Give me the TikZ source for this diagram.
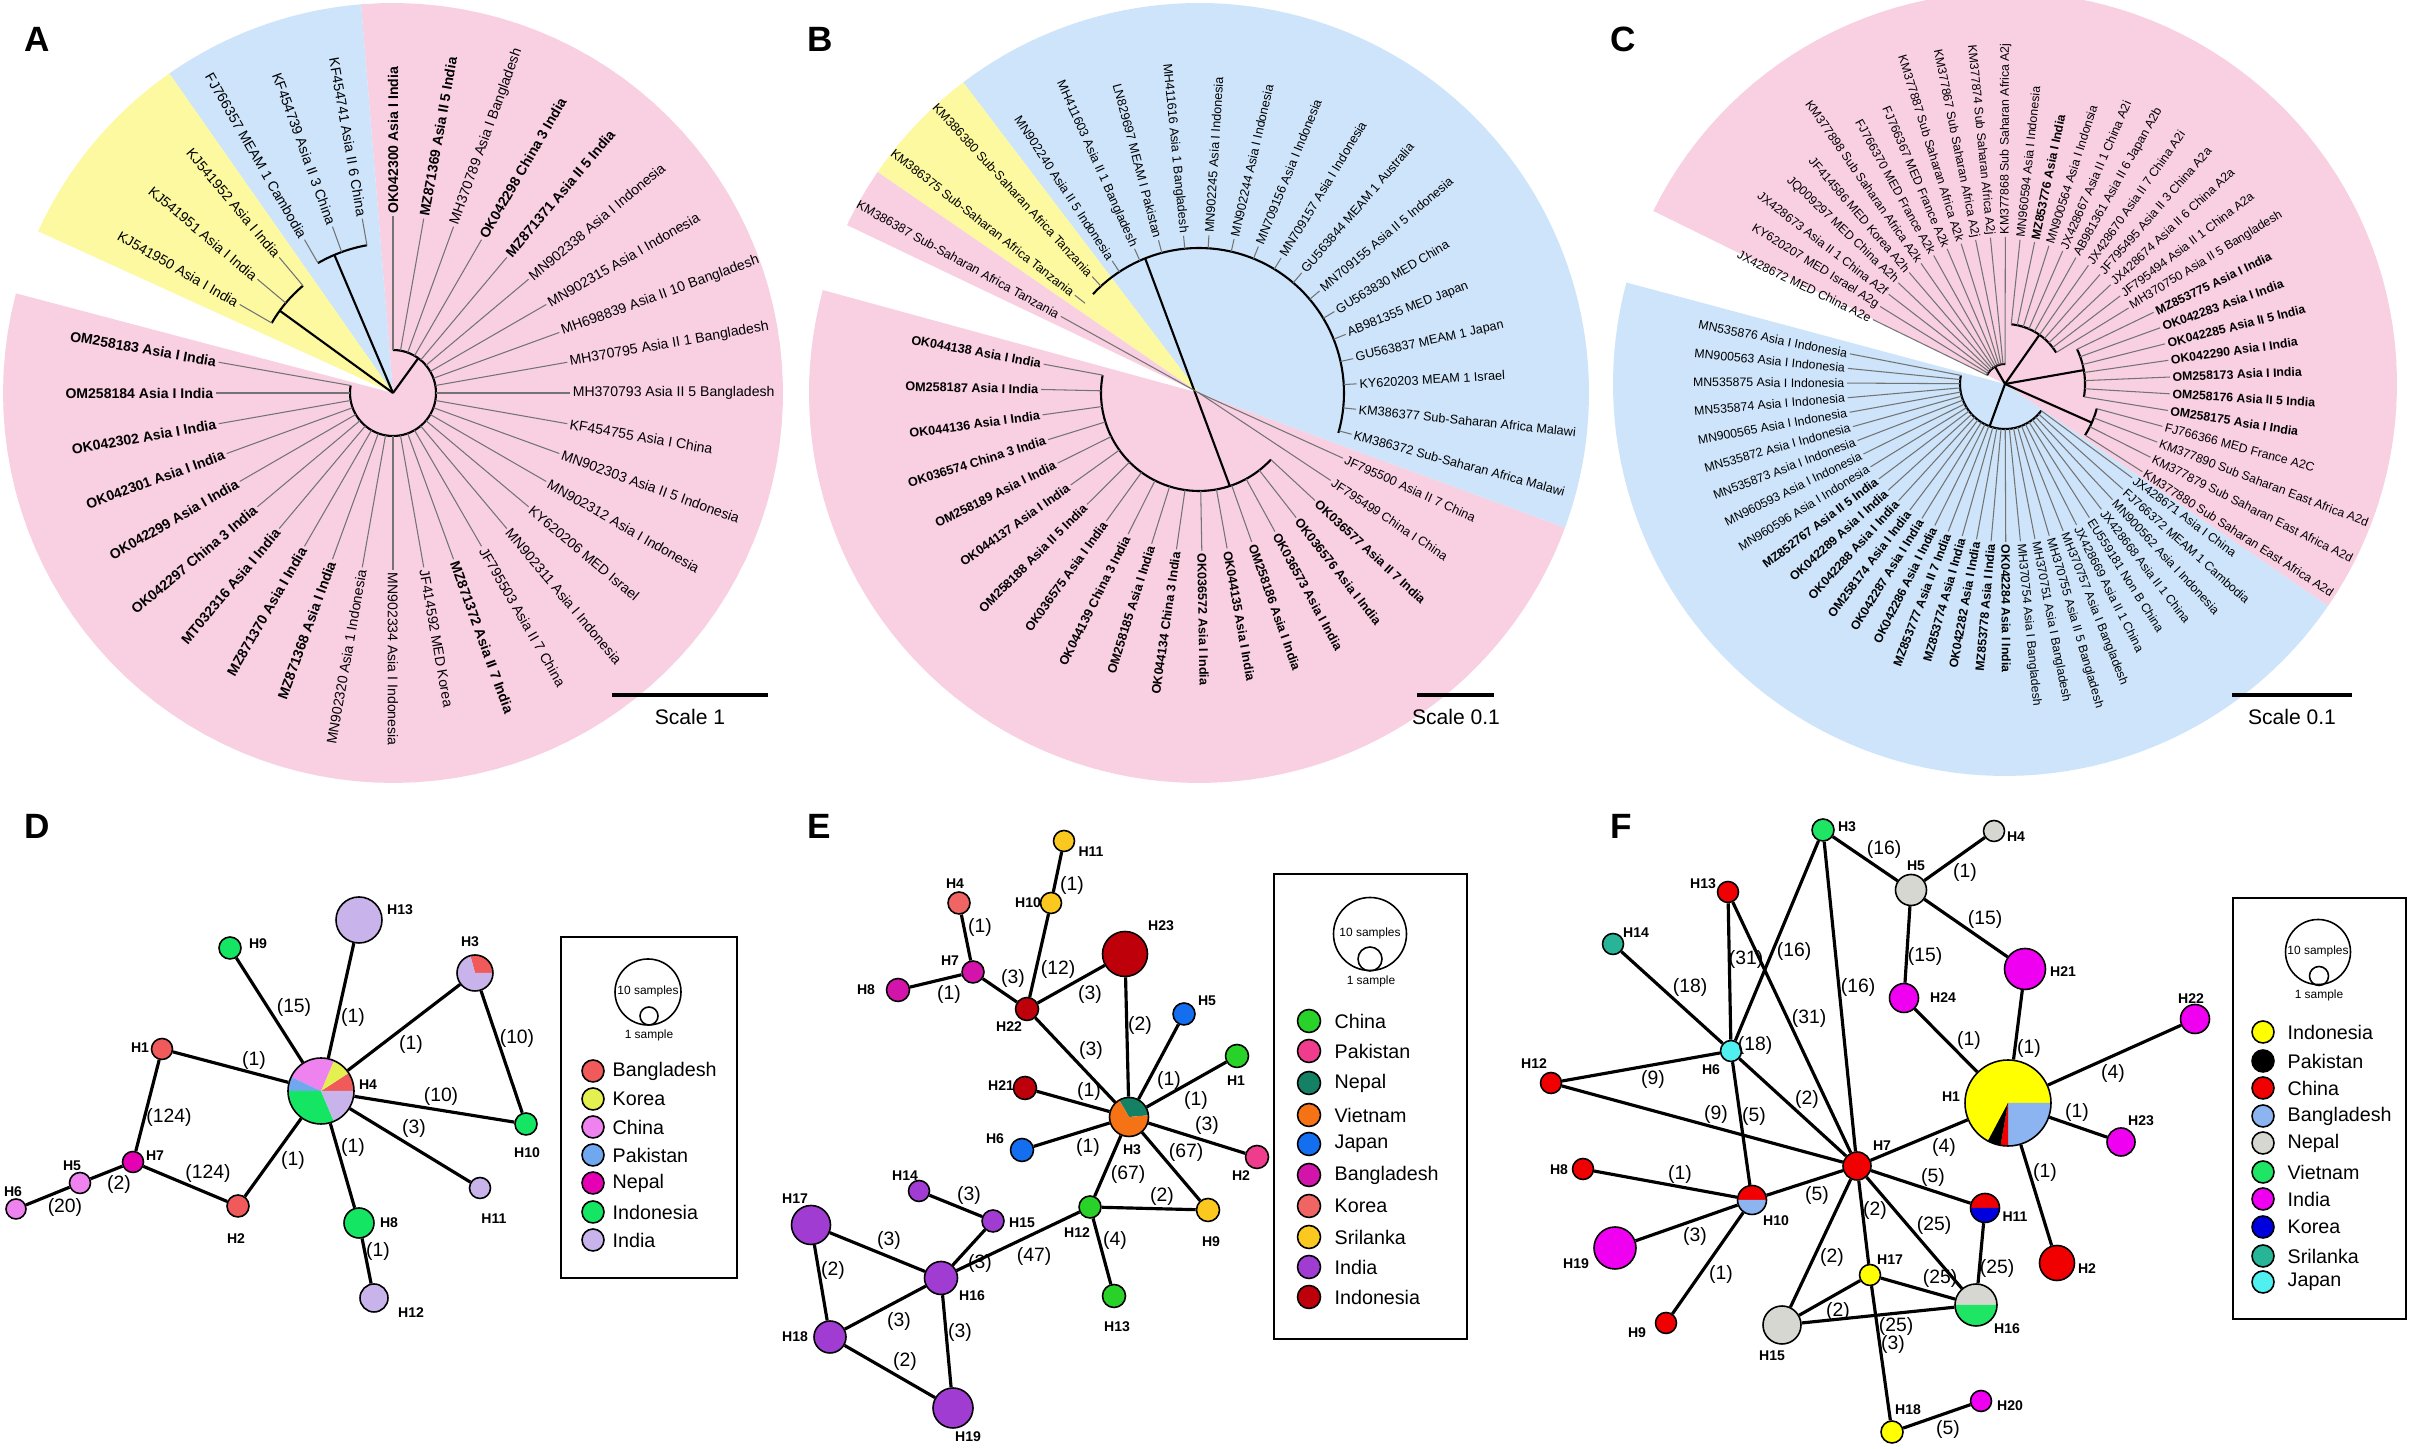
\documentclass[tikz,border=0pt]{standalone}
\usepackage{fontspec}
\setmainfont{Liberation Sans}
\usetikzlibrary{calc}

% tree backgrounds
\definecolor{pinkbg}{RGB}{248,208,226}
\definecolor{bluebg}{RGB}{205,228,250}
\definecolor{yellowbg}{RGB}{252,249,160}
% network D
\definecolor{dBgd}{RGB}{240,90,90}
\definecolor{dKor}{RGB}{228,240,80}
\definecolor{dChn}{RGB}{238,130,238}
\definecolor{dPak}{RGB}{112,168,240}
\definecolor{dNep}{RGB}{230,0,180}
\definecolor{dIdn}{RGB}{20,230,100}
\definecolor{dInd}{RGB}{200,180,235}
% network E
\definecolor{eChn}{RGB}{40,210,40}
\definecolor{ePak}{RGB}{240,60,140}
\definecolor{eNep}{RGB}{20,128,100}
\definecolor{eVie}{RGB}{245,115,20}
\definecolor{eJpn}{RGB}{20,110,240}
\definecolor{eBgd}{RGB}{210,20,170}
\definecolor{eKor}{RGB}{240,100,100}
\definecolor{eSri}{RGB}{250,200,30}
\definecolor{eInd}{RGB}{160,60,210}
\definecolor{eIdn}{RGB}{190,0,10}
% network F
\definecolor{fIdn}{RGB}{255,255,0}
\definecolor{fPak}{RGB}{0,0,0}
\definecolor{fChn}{RGB}{240,0,0}
\definecolor{fBgd}{RGB}{140,180,240}
\definecolor{fNep}{RGB}{215,215,210}
\definecolor{fVie}{RGB}{30,230,100}
\definecolor{fInd}{RGB}{240,0,240}
\definecolor{fKor}{RGB}{0,0,220}
\definecolor{fSri}{RGB}{40,180,150}
\definecolor{fJpn}{RGB}{80,240,240}

% leaves of a circular tree: prefix, cx, cy, r0, r1, start angle, step, font size, list
\newcommand{\leafrun}[9]{%
  \foreach \txt/\wt [count=\k from 0] in {#9}{%
    \pgfmathsetmacro\ang{#6+(#7)*\k}%
    \pgfmathsetmacro\cang{cos(\ang)}%
    \draw[leafline] ({#2+#4*cos(\ang)},{#3-#4*sin(\ang)}) -- ({#2+#5*cos(\ang)},{#3-#5*sin(\ang)});%
    \ifdim\cang pt>-0.001pt
      \node[leaflab,font=\fontsize{#8}{#8}\selectfont,wt\wt,anchor=west,rotate=\ang] (#1\k) at ({#2+#5*cos(\ang)},{#3-#5*sin(\ang)}) {\txt};%
    \else
      \node[leaflab,font=\fontsize{#8}{#8}\selectfont,wt\wt,anchor=east,rotate=\ang-180] (#1\k) at ({#2+#5*cos(\ang)},{#3-#5*sin(\ang)}) {\txt};%
    \fi
  }}
% sector of a circle: cx, cy, r, from, to, colour
\newcommand{\pieslice}[6]{\fill[#6] (#1,#2) -- plot[domain=#4:#5,samples=40] ({#1+#3*cos(\x)},{#2-#3*sin(\x)}) -- cycle;}
% arc of a circle: cx, cy, r, from, to
\newcommand{\treearc}[5]{\draw[clade] plot[domain=#4:#5,samples=60] ({#1+#3*cos(\x)},{#2-#3*sin(\x)});}

\begin{document}
\begin{tikzpicture}[x=0.1mm,y=-0.1mm,
    leafline/.style={line width=0.3pt,black!55},
    clade/.style={line width=0.6pt,black},
    leaflab/.style={inner sep=0.6pt},
    wtb/.style={execute at begin node=\bfseries},
    wtm/.style={},
    panel/.style={font=\fontsize{10}{10}\selectfont\bfseries},
    scalebar/.style={line width=0.9pt},
    scalelab/.style={font=\fontsize{6}{6}\selectfont},
    hap/.style={circle,draw,line width=0.45pt,inner sep=0pt},
    mutlink/.style={line width=0.9pt},
    mutlab/.style={font=\fontsize{5.5}{5.5}\selectfont,inner sep=0pt},
    haplab/.style={font=\fontsize{4}{4}\selectfont\bfseries,inner sep=0pt},
    legbox/.style={line width=0.6pt},
    legtext/.style={font=\fontsize{5.6}{5.6}\selectfont,anchor=west,inner sep=0pt},
    sizelab/.style={font=\fontsize{3.4}{3.4}\selectfont,inner sep=0pt}
]
\useasboundingbox (0,0) rectangle (2410,1449);
\fill[white] (0,0) rectangle (2410,1449);

% ---------------- A: tree ----------------
\fill[pinkbg] (393,393) -- plot[domain=165.2:454.7,samples=100] ({393+390*cos(\x)},{393-390*sin(\x)}) -- cycle;
\fill[bluebg] (393,393) -- plot[domain=94.7:125,samples=30] ({393+390*cos(\x)},{393-390*sin(\x)}) -- cycle;
\fill[yellowbg] (393,393) -- plot[domain=125:155.5,samples=30] ({393+390*cos(\x)},{393-390*sin(\x)}) -- cycle;
\draw[clade] (393,393) -- ({393+43*cos(54)},{393-43*sin(54)});
\treearc{393}{393}{43}{-190}{90}
\draw[clade] (393,393) -- ({393+140*cos(144)},{393-140*sin(144)});
\treearc{393}{393}{140}{130}{150}
\draw[clade] (393,393) -- ({393+150*cos(113)},{393-150*sin(113)});
\treearc{393}{393}{150}{100}{120}
\leafrun{aP}{393}{393}{43}{177}{90}{-10}{4}{OK042300 Asia I India/b,
  MZ871369 Asia II 5 India/b,
  MH370789 Asia I Bangladesh/m,
  OK042298 China 3 India/b,
  MZ871371 Asia II 5 India/b,
  MN902338 Asia I Indonesia/m,
  MN902315 Asia I Indonesia/m,
  MH698839 Asia II 10 Bangladesh/m,
  MH370795 Asia II 1 Bangladesh/m,
  MH370793 Asia II 5 Bangladesh/m,
  KF454755 Asia I China/m,
  MN902303 Asia II 5 Indonesia/m,
  MN902312 Asia I Indonesia/m,
  KY620206 MED Israel/m,
  MN902311 Asia I Indonesia/m,
  JF795503 Asia II 7 China/m,
  MZ871372 Asia II 7 India/b,
  JF414592 MED Korea/m,
  MN902334 Asia I Indonesia/m,
  MN902320 Asia 1 Indonesia/m,
  MZ871368 Asia I India/b,
  MZ871370 Asia I India/b,
  MT032316 Asia I India/b,
  OK042297 China 3 India/b,
  OK042299 Asia I India/b,
  OK042301 Asia I India/b,
  OK042302 Asia I India/b,
  OM258184 Asia I India/b,
  OM258183 Asia I India/b}
\leafrun{aY}{393}{393}{140}{177}{150}{-10}{4}{KJ541950 Asia I India/m,
  KJ541951 Asia I India/m,
  KJ541952 Asia I India/m}
\leafrun{aB}{393}{393}{150}{177}{120}{-10}{4}{FJ766357 MEAM 1 Cambodia/m,
  KF454739 Asia II 3 China/m,
  KF454741 Asia II 6 China/m}
\draw[scalebar] (612,695) -- (768,695);
\node[scalelab] (sA) at (690,717) {Scale 1};
\node[panel] (lA) at (37,39) {A};

% ---------------- B: tree ----------------
\fill[pinkbg] (1199,393) -- plot[domain=164.7:339.8,samples=80] ({1199+390*cos(\x)},{393-390*sin(\x)}) -- cycle;
\fill[bluebg] (1199,393) -- plot[domain=339.8:487.2,samples=80] ({1199+390*cos(\x)},{393-390*sin(\x)}) -- cycle;
\fill[yellowbg] (1199,393) -- plot[domain=127.2:145.5,samples=20] ({1199+390*cos(\x)},{393-390*sin(\x)}) -- cycle;
\fill[pinkbg] (1199,393) -- plot[domain=145.5:154.5,samples=20] ({1199+390*cos(\x)},{393-390*sin(\x)}) -- cycle;
\treearc{1199}{393}{145}{-16}{137}
\treearc{1199}{393}{98}{169.6}{317.2}
\draw[clade] ({1199+98*cos(-71.7)},{393-98*sin(-71.7)}) -- ({1199+145*cos(111.8)},{393-145*sin(111.8)});
\leafrun{bT}{1199}{393}{0}{158}{151}{-9.23}{3.6}{KM386387 Sub-Saharan Africa Tanzania/m}
\leafrun{bB}{1199}{393}{145}{158}{141.77}{-9.23}{3.6}{KM386375 Sub-Saharan Africa Tanzania/m,
  KM386380 Sub-Saharan Africa Tanzania/m,
  MN902240 Asia II 5 Indonesia/m,
  MH411603 Asia II 1 Bangladesh/m,
  LN829697 MEAM I Pakistan/m,
  MH411616 Asia 1 Bangladesh/m,
  MN902245 Asia I Indonesia/m,
  MN902244 Asia I Indonesia/m,
  MN709156 Asia I Indonesia/m,
  MN709157 Asia I Indonesia/m,
  GU563844 MEAM 1 Australia/m,
  MN709155 Asia II 5 Indonesia/m,
  GU563830 MED China/m,
  AB981355 MED Japan/m,
  GU563837 MEAM 1 Japan/m,
  KY620203 MEAM 1 Israel/m,
  KM386377 Sub-Saharan Africa Malawi/m,
  KM386372 Sub-Saharan Africa Malawi/m}
\leafrun{bJ}{1199}{393}{0}{158}{-24.37}{-9.23}{3.6}{JF795500 Asia II 7 China/m,
  JF795499 China I China/m}
\leafrun{bP}{1199}{393}{98}{158}{-42.83}{-9.23}{3.6}{OK036577 Asia II 7 India/b,
  OK036576 Asia I India/b,
  OK036573 Asia I India/b,
  OM258186 Asia I India/b,
  OK044135 Asia I India/b,
  OK036572 Asia I India/b,
  OK044134 China 3 India/b,
  OM258185 Asia I India/b,
  OK044139 China 3 India/b,
  OK036575 Asia I India/b,
  OM258188 Asia II 5 India/b,
  OK044137 Asia I India/b,
  OM258189 Asia I India/b,
  OK036574 China 3 India/b,
  OK044136 Asia I India/b,
  OM258187 Asia I India/b,
  OK044138 Asia I India/b}
\draw[scalebar] (1417,695) -- (1494,695);
\node[scalelab] (sB) at (1456,717) {Scale 0.1};
\node[panel] (lB) at (820,39) {B};

% ---------------- C: tree ----------------
\fill[pinkbg] (2005,384) -- plot[domain=-34.5:153.8,samples=80] ({2005+392*cos(\x)},{384-392*sin(\x)}) -- cycle;
\fill[bluebg] (2005,384) -- plot[domain=165:325.5,samples=80] ({2005+392*cos(\x)},{384-392*sin(\x)}) -- cycle;
\treearc{2005}{384}{20}{89}{154}
\draw[clade] (2005,384) -- ({2005+20*cos(120)},{384-20*sin(120)});
\treearc{2005}{384}{60}{31.5}{84}
\treearc{2005}{384}{80}{-9.3}{25.8}
\draw[clade] (2005,384) -- ({2005+80*cos(10)},{384-80*sin(10)});
\treearc{2005}{384}{95}{-32.6}{-15}
\draw[clade] (2005,384) -- ({2005+95*cos(-24)},{384-95*sin(-24)});
\draw[clade] (2005,384) -- ({2005+60*cos(55)},{384-60*sin(55)});
\treearc{2005}{384}{45}{169}{323.6}
\draw[clade] (2005,384) -- ({2005+45*cos(250)},{384-45*sin(250)});
\leafrun{cP}{2005}{384}{20}{147}{154}{-5.83}{3.5}{JX428672 MED China A2e/m,
  KY620207 MED Israel A2g/m,
  JX428673 Asia II 1 China A2f/m,
  JQ009297 MED China A2h/m,
  JF414586 MED Korea A2h/m,
  KM377898 Sub Saharan Africa A2k/m,
  FJ766370 MED France A2k/m,
  FJ766367 MED France A2k/m,
  KM377887 Sub Saharan Africa A2k/m,
  KM377867 Sub Saharan Africa A2j/m,
  KM377874 Sub Saharan Africa A2j/m,
  KM377868 Sub Saharan Africa A2j/m}
\leafrun{cQ}{2005}{384}{60}{145}{84.04}{-5.83}{3.5}{MN960594 Asia I Indonesia/m,
  MZ853776 Asia I India/b,
  MN900564 Asia I Indonsia/m,
  JX428667 Asia II 1 China A2i/m,
  AB981361 Asia II 6 Japan A2b/m,
  JX428670 Asia II 7 China A2i/m,
  JF795495 Asia II 3 China A2a/m,
  JX428674 Asia II 6 China A2a/m,
  JF795494 Asia II 1 China A2a/m,
  MH370750 Asia II 5 Bangladesh/m}
\leafrun{cR}{2005}{384}{80}{165}{25.74}{-5.83}{3.5}{MZ853775 Asia I India/b,
  OK042283 Asia I India/b,
  OK042285 Asia II 5 India/b,
  OK042290 Asia I India/b,
  OM258173 Asia I India/b,
  OM258176 Asia II 5 India/b,
  OM258175 Asia I India/b}
\leafrun{cS}{2005}{384}{95}{163}{-15.07}{-5.83}{3.5}{FJ766366 MED France A2C/m,
  KM377890 Sub Saharan East Africa A2d/m,
  KM377879 Sub Saharan East Africa A2d/m,
  KM377880 Sub Saharan East Africa A2d/m}
\leafrun{cB}{2005}{384}{45}{158}{169}{5.33}{3.5}{MN535876 Asia I Indonesia/m,
  MN900563 Asia I Indonesia/m,
  MN535875 Asia I Indonesia/m,
  MN535874 Asia I Indonesia/m,
  MN900565 Asia I Indonesia/m,
  MN535872 Asia I Indonesia/m,
  MN535873 Asia I Indonesia/m,
  MN960593 Asia I Indonesia/m,
  MN960596 Asia I Indonesia/m,
  MZ852767 Asia II 5 India/b,
  OK042289 Asia I India/b,
  OK042288 Asia I India/b,
  OM258174 Asia I India/b,
  OK042287 Asia I India/b,
  OK042286 Asia I India/b,
  MZ853777 Asia II 7 India/b,
  MZ853774 Asia I India/b,
  OK042282 Asia I India/b,
  MZ853778 Asia I India/b,
  OK042284 Asia I India/b,
  MH370754 Asia I Bangladesh/m,
  MH370751 Asia I Bangladesh/m,
  MH370755 Asia II 5 Bangladesh/m,
  MH370757 Asia I Bangladesh/m,
  JX428669 Asia II 1 China/m,
  EU559181 Non B China/m,
  JX428668 Asia II 1 China/m,
  MN900562 Asia I Indonesia/m,
  FJ766372 MEAM 1 Cambodia/m,
  JX428671 Asia I China/m}
\draw[scalebar] (2232,695) -- (2352,695);
\node[scalelab] (sC) at (2292,717) {Scale 0.1};
\node[panel] (lC) at (1623,39) {C};

% ---------------- D: network ----------------
\node[panel] (lD) at (37,826) {D};
\pieslice{321}{1091}{33}{0}{33}{dBgd}
\pieslice{321}{1091}{33}{33}{67}{dKor}
\pieslice{321}{1091}{33}{67}{155}{dChn}
\pieslice{321}{1091}{33}{155}{180}{dPak}
\pieslice{321}{1091}{33}{180}{293}{dIdn}
\pieslice{321}{1091}{33}{293}{360}{dInd}
\node[hap,minimum size=6.6mm] (dH4) at (321,1091) {};
\pieslice{475}{973}{18}{0}{105}{dBgd}
\pieslice{475}{973}{18}{105}{360}{dInd}
\node[hap,minimum size=3.6mm] (dH3) at (475,973) {};
\node[hap,fill=dInd,minimum size=4.6mm] (dH13) at (359,920) {};
\node[hap,fill=dIdn,minimum size=2.2mm] (dH9) at (230,948) {};
\node[hap,fill=dBgd,minimum size=2.1mm] (dH1) at (162,1049) {};
\node[hap,fill=dIdn,minimum size=2.2mm] (dH10) at (526,1124) {};
\node[hap,fill=dNep,minimum size=2.1mm] (dH7) at (133,1162) {};
\node[hap,fill=dChn,minimum size=2.1mm] (dH5) at (80,1183) {};
\node[hap,fill=dChn,minimum size=2mm] (dH6) at (16,1209) {};
\node[hap,fill=dBgd,minimum size=2.2mm] (dH2) at (238,1206) {};
\node[hap,fill=dInd,minimum size=2.1mm] (dH11) at (480,1188) {};
\node[hap,fill=dIdn,minimum size=3mm] (dH8) at (359,1223) {};
\node[hap,fill=dInd,minimum size=2.8mm] (dH12) at (374,1298) {};
\draw[mutlink] (dH4) -- (dH13);
\draw[mutlink] (dH4) -- (dH9);
\draw[mutlink] (dH4) -- (dH3);
\draw[mutlink] (dH4) -- (dH1);
\draw[mutlink] (dH4) -- (dH10);
\draw[mutlink] (dH4) -- (dH11);
\draw[mutlink] (dH4) -- (dH8);
\draw[mutlink] (dH4) -- (dH2);
\draw[mutlink] (dH3) -- (dH10);
\draw[mutlink] (dH1) -- (dH7);
\draw[mutlink] (dH7) -- (dH2);
\draw[mutlink] (dH7) -- (dH5);
\draw[mutlink] (dH5) -- (dH6);
\draw[mutlink] (dH8) -- (dH12);
% mutation counts
\node[mutlab] (dm1) at (294,1008) {(15)};
\node[mutlab] (dm2) at (353,1018) {(1)};
\node[mutlab] (dm3) at (411,1045) {(1)};
\node[mutlab] (dm4) at (517,1039) {(10)};
\node[mutlab] (dm5) at (254,1061) {(1)};
\node[mutlab] (dm6) at (441,1097) {(10)};
\node[mutlab] (dm7) at (169,1118) {(124)};
\node[mutlab] (dm8) at (414,1129) {(3)};
\node[mutlab] (dm9) at (353,1148) {(1)};
\node[mutlab] (dm10) at (293,1161) {(1)};
\node[mutlab] (dm11) at (208,1174) {(124)};
\node[mutlab] (dm12) at (119,1185) {(2)};
\node[mutlab] (dm13) at (65,1208) {(20)};
\node[mutlab] (dm14) at (378,1252) {(1)};
% haplotype names
\node[haplab] (dl13) at (400,910) {H13};
\node[haplab] (dl9) at (258,944) {H9};
\node[haplab] (dl3) at (470,942) {H3};
\node[haplab] (dl1) at (140,1048) {H1};
\node[haplab] (dl4) at (368,1085) {H4};
\node[haplab] (dl10) at (527,1153) {H10};
\node[haplab] (dl7) at (155,1156) {H7};
\node[haplab] (dl5) at (72,1166) {H5};
\node[haplab] (dl6) at (13,1192) {H6};
\node[haplab] (dl2) at (236,1239) {H2};
\node[haplab] (dl11) at (494,1219) {H11};
\node[haplab] (dl8) at (389,1223) {H8};
\node[haplab] (dl12) at (411,1313) {H12};
% legend
\draw[legbox] (561,937) rectangle (737,1278);
\node[hap,minimum size=6.6mm] (dS10) at (648,992) {};
\node[hap,minimum size=1.8mm] (dS1) at (649,1016) {};
\node[sizelab] (dS10t) at (648,991) {10 samples};
\node[sizelab] (dS1t) at (649,1035) {1 sample};
\node[hap,fill=dBgd,minimum size=2.2mm] (dk1) at (593,1071) {};
\node[legtext] (dt1) at (612,1071) {Bangladesh};
\node[hap,fill=dKor,minimum size=2.2mm] (dk2) at (593,1099) {};
\node[legtext] (dt2) at (612,1099) {Korea};
\node[hap,fill=dChn,minimum size=2.2mm] (dk3) at (593,1127) {};
\node[legtext] (dt3) at (612,1127) {China};
\node[hap,fill=dPak,minimum size=2.2mm] (dk4) at (593,1155) {};
\node[legtext] (dt4) at (612,1155) {Pakistan};
\node[hap,fill=dNep,minimum size=2.2mm] (dk5) at (593,1183) {};
\node[legtext] (dt5) at (612,1183) {Nepal};
\node[hap,fill=dIdn,minimum size=2.2mm] (dk6) at (593,1212) {};
\node[legtext] (dt6) at (612,1212) {Indonesia};
\node[hap,fill=dInd,minimum size=2.2mm] (dk7) at (593,1240) {};
\node[legtext] (dt7) at (612,1240) {India};

% ---------------- E: network ----------------
\node[panel] (lE) at (819,826) {E};
\pieslice{1129}{1117}{19.5}{5}{120}{eNep}
\pieslice{1129}{1117}{19.5}{120}{365}{eVie}
\node[hap,minimum size=3.9mm] (eH3) at (1129,1117) {};
\node[hap,fill=eSri,minimum size=2.1mm] (eH11) at (1064,841) {};
\node[hap,fill=eSri,minimum size=2.1mm] (eH10) at (1051,903) {};
\node[hap,fill=eKor,minimum size=2.2mm] (eH4) at (959,903) {};
\node[hap,fill=eBgd,minimum size=2.2mm] (eH7) at (973,972) {};
\node[hap,fill=eBgd,minimum size=2.3mm] (eH8) at (898,990) {};
\node[hap,fill=eIdn,minimum size=2.3mm] (eH22) at (1027,1009) {};
\node[hap,fill=eIdn,minimum size=4.5mm] (eH23) at (1125,954) {};
\node[hap,fill=eJpn,minimum size=2.2mm] (eH5) at (1184,1014) {};
\node[hap,fill=eChn,minimum size=2.3mm] (eH1) at (1237,1056) {};
\node[hap,fill=eIdn,minimum size=2.3mm] (eH21) at (1025,1088) {};
\node[hap,fill=eJpn,minimum size=2.3mm] (eH6) at (1022,1150) {};
\node[hap,fill=ePak,minimum size=2.3mm] (eH2) at (1257,1157) {};
\node[hap,fill=eChn,minimum size=2.2mm] (eH12) at (1090,1207) {};
\node[hap,fill=eSri,minimum size=2.3mm] (eH9) at (1208,1210) {};
\node[hap,fill=eChn,minimum size=2.3mm] (eH13) at (1114,1296) {};
\node[hap,fill=eInd,minimum size=2.1mm] (eH14) at (919,1191) {};
\node[hap,fill=eInd,minimum size=2.2mm] (eH15) at (993,1221) {};
\node[hap,fill=eInd,minimum size=3.9mm] (eH17) at (811,1225) {};
\node[hap,fill=eInd,minimum size=3.3mm] (eH16) at (941,1278) {};
\node[hap,fill=eInd,minimum size=3.2mm] (eH18) at (830,1337) {};
\node[hap,fill=eInd,minimum size=4mm] (eH19) at (953,1408) {};
\draw[mutlink] (eH11) -- (eH10);
\draw[mutlink] (eH10) -- (eH22);
\draw[mutlink] (eH4) -- (eH7);
\draw[mutlink] (eH8) -- (eH7);
\draw[mutlink] (eH7) -- (eH22);
\draw[mutlink] (eH22) -- (eH23);
\draw[mutlink] (eH22) -- (eH3);
\draw[mutlink] (eH23) -- (eH3);
\draw[mutlink] (eH5) -- (eH3);
\draw[mutlink] (eH1) -- (eH3);
\draw[mutlink] (eH21) -- (eH3);
\draw[mutlink] (eH6) -- (eH3);
\draw[mutlink] (eH2) -- (eH3);
\draw[mutlink] (eH3) -- (eH9);
\draw[mutlink] (eH3) -- (eH12);
\draw[mutlink] (eH12) -- (eH9);
\draw[mutlink] (eH12) -- (eH13);
\draw[mutlink] (eH12) -- (eH16);
\draw[mutlink] (eH14) -- (eH15);
\draw[mutlink] (eH15) -- (eH16);
\draw[mutlink] (eH17) -- (eH16);
\draw[mutlink] (eH17) -- (eH18);
\draw[mutlink] (eH18) -- (eH16);
\draw[mutlink] (eH16) -- (eH19);
\draw[mutlink] (eH18) -- (eH19);
% mutation counts
\node[mutlab] (em1) at (1072,886) {(1)};
\node[mutlab] (em2) at (980,928) {(1)};
\node[mutlab] (em3) at (1058,970) {(12)};
\node[mutlab] (em4) at (1013,979) {(3)};
\node[mutlab] (em5) at (949,995) {(1)};
\node[mutlab] (em6) at (1090,995) {(3)};
\node[mutlab] (em7) at (1140,1026) {(2)};
\node[mutlab] (em8) at (1091,1051) {(3)};
\node[mutlab] (em9) at (1169,1081) {(1)};
\node[mutlab] (em10) at (1196,1101) {(1)};
\node[mutlab] (em11) at (1089,1092) {(1)};
\node[mutlab] (em12) at (1207,1126) {(3)};
\node[mutlab] (em13) at (1088,1148) {(1)};
\node[mutlab] (em14) at (1186,1153) {(67)};
\node[mutlab] (em15) at (1128,1175) {(67)};
\node[mutlab] (em16) at (1162,1197) {(2)};
\node[mutlab] (em17) at (1115,1241) {(4)};
\node[mutlab] (em18) at (1034,1257) {(47)};
\node[mutlab] (em19) at (969,1196) {(3)};
\node[mutlab] (em20) at (980,1264) {(3)};
\node[mutlab] (em21) at (889,1241) {(3)};
\node[mutlab] (em22) at (833,1271) {(2)};
\node[mutlab] (em23) at (899,1322) {(3)};
\node[mutlab] (em24) at (960,1333) {(3)};
\node[mutlab] (em25) at (905,1362) {(2)};
% haplotype names
\node[haplab] (el11) at (1091,852) {H11};
\node[haplab] (el10) at (1028,903) {H10};
\node[haplab] (el4) at (955,884) {H4};
\node[haplab] (el7) at (950,961) {H7};
\node[haplab] (el8) at (866,990) {H8};
\node[haplab] (el22) at (1009,1027) {H22};
\node[haplab] (el23) at (1161,926) {H23};
\node[haplab] (el5) at (1207,1001) {H5};
\node[haplab] (el1) at (1236,1081) {H1};
\node[haplab] (el21) at (1001,1086) {H21};
\node[haplab] (el6) at (995,1139) {H6};
\node[haplab] (el3) at (1132,1150) {H3};
\node[haplab] (el2) at (1241,1176) {H2};
\node[haplab] (el9) at (1211,1242) {H9};
\node[haplab] (el12) at (1077,1233) {H12};
\node[haplab] (el13) at (1117,1327) {H13};
\node[haplab] (el14) at (905,1176) {H14};
\node[haplab] (el15) at (1022,1223) {H15};
\node[haplab] (el16) at (972,1296) {H16};
\node[haplab] (el17) at (795,1199) {H17};
\node[haplab] (el18) at (795,1337) {H18};
\node[haplab] (el19) at (968,1437) {H19};
% legend
\draw[legbox] (1274,874) rectangle (1467,1339);
\node[hap,minimum size=7.3mm] (eS10) at (1370,934) {};
\node[hap,minimum size=2.4mm] (eS1) at (1370,959) {};
\node[sizelab] (eS10t) at (1370,933) {10 samples};
\node[sizelab] (eS1t) at (1371,981) {1 sample};
\node[hap,fill=eChn,minimum size=2.3mm] (ek1) at (1309,1021) {};
\node[legtext] (et1) at (1334,1021) {China};
\node[hap,fill=ePak,minimum size=2.3mm] (ek2) at (1309,1051) {};
\node[legtext] (et2) at (1334,1051) {Pakistan};
\node[hap,fill=eNep,minimum size=2.3mm] (ek3) at (1309,1083) {};
\node[legtext] (et3) at (1334,1083) {Nepal};
\node[hap,fill=eVie,minimum size=2.3mm] (ek4) at (1309,1115) {};
\node[legtext] (et4) at (1334,1115) {Vietnam};
\node[hap,fill=eJpn,minimum size=2.3mm] (ek5) at (1309,1144) {};
\node[legtext] (et5) at (1334,1144) {Japan};
\node[hap,fill=eBgd,minimum size=2.3mm] (ek6) at (1309,1175) {};
\node[legtext] (et6) at (1334,1175) {Bangladesh};
\node[hap,fill=eKor,minimum size=2.3mm] (ek7) at (1309,1206) {};
\node[legtext] (et7) at (1334,1206) {Korea};
\node[hap,fill=eSri,minimum size=2.3mm] (ek8) at (1309,1237) {};
\node[legtext] (et8) at (1334,1237) {Srilanka};
\node[hap,fill=eInd,minimum size=2.3mm] (ek9) at (1309,1267) {};
\node[legtext] (et9) at (1334,1267) {India};
\node[hap,fill=eIdn,minimum size=2.3mm] (ek10) at (1309,1297) {};
\node[legtext] (et10) at (1334,1297) {Indonesia};

% ---------------- F: network ----------------
\node[panel] (lF) at (1621,826) {F};
\pieslice{2008}{1103}{43}{-120}{240}{fIdn}
\pieslice{2008}{1103}{43}{-90}{0}{fBgd}
\pieslice{2008}{1103}{43}{-100}{-90}{fChn}
\pieslice{2008}{1103}{43}{-118}{-100}{fPak}
\node[hap,minimum size=8.6mm] (fH1) at (2008,1103) {};
\pieslice{1752}{1200}{14.5}{0}{180}{fChn}
\pieslice{1752}{1200}{14.5}{180}{360}{fBgd}
\node[hap,minimum size=2.9mm] (fH10) at (1752,1200) {};
\pieslice{1985}{1208}{14.5}{0}{180}{fChn}
\pieslice{1985}{1208}{14.5}{180}{360}{fKor}
\node[hap,minimum size=2.9mm] (fH11) at (1985,1208) {};
\pieslice{1976}{1305}{21}{0}{180}{fNep}
\pieslice{1976}{1305}{21}{180}{360}{fVie}
\node[hap,minimum size=4.2mm] (fH16) at (1976,1305) {};
\node[hap,fill=fVie,minimum size=2.2mm] (fH3) at (1823,830) {};
\node[hap,fill=fNep,minimum size=2.1mm] (fH4) at (1994,831) {};
\node[hap,fill=fNep,minimum size=3.1mm] (fH5) at (1911,890) {};
\node[hap,fill=fChn,minimum size=2.1mm] (fH13) at (1728,892) {};
\node[hap,fill=fSri,minimum size=2.1mm] (fH14) at (1613,944) {};
\node[hap,fill=fInd,minimum size=4.1mm] (fH21) at (2025,969) {};
\node[hap,fill=fInd,minimum size=2.9mm] (fH24) at (1904,998) {};
\node[hap,fill=fInd,minimum size=2.9mm] (fH22) at (2195,1019) {};
\node[hap,fill=fJpn,minimum size=2.1mm] (fH6) at (1731,1051) {};
\node[hap,fill=fChn,minimum size=2.1mm] (fH12) at (1551,1083) {};
\node[hap,fill=fInd,minimum size=2.8mm] (fH23) at (2121,1142) {};
\node[hap,fill=fChn,minimum size=2.8mm] (fH7) at (1857,1166) {};
\node[hap,fill=fChn,minimum size=2.1mm] (fH8) at (1583,1169) {};
\node[hap,fill=fInd,minimum size=4.2mm] (fH19) at (1615,1248) {};
\node[hap,fill=fChn,minimum size=3.5mm] (fH2) at (2057,1263) {};
\node[hap,fill=fIdn,minimum size=2.1mm] (fH17) at (1870,1275) {};
\node[hap,fill=fChn,minimum size=2.1mm] (fH9) at (1666,1323) {};
\node[hap,fill=fNep,minimum size=3.8mm] (fH15) at (1782,1325) {};
\node[hap,fill=fInd,minimum size=2.1mm] (fH20) at (1981,1401) {};
\node[hap,fill=fIdn,minimum size=2.2mm] (fH18) at (1892,1432) {};
\draw[mutlink] (fH3) -- (fH5);
\draw[mutlink] (fH5) -- (fH4);
\draw[mutlink] (fH5) -- (fH21);
\draw[mutlink] (fH5) -- (fH24);
\draw[mutlink] (fH3) -- (fH6);
\draw[mutlink] (fH3) -- (fH7);
\draw[mutlink] (fH13) -- (fH6);
\draw[mutlink] (fH13) -- (fH7);
\draw[mutlink] (fH14) -- (fH6);
\draw[mutlink] (fH12) -- (fH6);
\draw[mutlink] (fH12) -- (fH7);
\draw[mutlink] (fH6) -- (fH7);
\draw[mutlink] (fH6) -- (fH10);
\draw[mutlink] (fH24) -- (fH1);
\draw[mutlink] (fH21) -- (fH1);
\draw[mutlink] (fH1) -- (fH22);
\draw[mutlink] (fH1) -- (fH23);
\draw[mutlink] (fH7) -- (fH1);
\draw[mutlink] (fH1) -- (fH2);
\draw[mutlink] (fH8) -- (fH10);
\draw[mutlink] (fH10) -- (fH7);
\draw[mutlink] (fH7) -- (fH11);
\draw[mutlink] (fH7) -- (fH17);
\draw[mutlink] (fH7) -- (fH16);
\draw[mutlink] (fH10) -- (fH19);
\draw[mutlink] (fH10) -- (fH9);
\draw[mutlink] (fH7) -- (fH15);
\draw[mutlink] (fH11) -- (fH16);
\draw[mutlink] (fH17) -- (fH16);
\draw[mutlink] (fH15) -- (fH16);
\draw[mutlink] (fH15) -- (fH17);
\draw[mutlink] (fH17) -- (fH18);
\draw[mutlink] (fH18) -- (fH20);
% mutation counts
\node[mutlab] (fm1) at (1884,850) {(16)};
\node[mutlab] (fm2) at (1965,873) {(1)};
\node[mutlab] (fm3) at (1985,920) {(15)};
\node[mutlab] (fm4) at (1925,957) {(15)};
\node[mutlab] (fm5) at (1746,960) {(31)};
\node[mutlab] (fm6) at (1794,952) {(16)};
\node[mutlab] (fm7) at (1690,988) {(18)};
\node[mutlab] (fm8) at (1858,988) {(16)};
\node[mutlab] (fm9) at (1809,1019) {(31)};
\node[mutlab] (fm10) at (1755,1046) {(18)};
\node[mutlab] (fm11) at (1653,1080) {(9)};
\node[mutlab] (fm12) at (1716,1115) {(9)};
\node[mutlab] (fm13) at (1754,1117) {(5)};
\node[mutlab] (fm14) at (1807,1100) {(2)};
\node[mutlab] (fm15) at (1969,1041) {(1)};
\node[mutlab] (fm16) at (2029,1049) {(1)};
\node[mutlab] (fm17) at (2113,1074) {(4)};
\node[mutlab] (fm18) at (2077,1113) {(1)};
\node[mutlab] (fm19) at (1944,1148) {(4)};
\node[mutlab] (fm20) at (2045,1173) {(1)};
\node[mutlab] (fm21) at (1680,1175) {(1)};
\node[mutlab] (fm22) at (1817,1196) {(5)};
\node[mutlab] (fm23) at (1933,1178) {(5)};
\node[mutlab] (fm24) at (1875,1211) {(2)};
\node[mutlab] (fm25) at (1934,1226) {(25)};
\node[mutlab] (fm26) at (1695,1237) {(3)};
\node[mutlab] (fm27) at (1721,1275) {(1)};
\node[mutlab] (fm28) at (1832,1258) {(2)};
\node[mutlab] (fm29) at (1997,1269) {(25)};
\node[mutlab] (fm30) at (1940,1279) {(25)};
\node[mutlab] (fm31) at (1838,1312) {(2)};
\node[mutlab] (fm32) at (1896,1327) {(25)};
\node[mutlab] (fm33) at (1893,1345) {(3)};
\node[mutlab] (fm34) at (1948,1430) {(5)};
% haplotype names
\node[haplab] (fl3) at (1847,827) {H3};
\node[haplab] (fl4) at (2016,837) {H4};
\node[haplab] (fl5) at (1916,866) {H5};
\node[haplab] (fl13) at (1703,884) {H13};
\node[haplab] (fl14) at (1636,933) {H14};
\node[haplab] (fl21) at (2063,972) {H21};
\node[haplab] (fl24) at (1943,998) {H24};
\node[haplab] (fl22) at (2191,999) {H22};
\node[haplab] (fl6) at (1711,1070) {H6};
\node[haplab] (fl12) at (1534,1064) {H12};
\node[haplab] (fl1) at (1951,1097) {H1};
\node[haplab] (fl23) at (2141,1121) {H23};
\node[haplab] (fl7) at (1882,1146) {H7};
\node[haplab] (fl8) at (1559,1170) {H8};
\node[haplab] (fl10) at (1776,1221) {H10};
\node[haplab] (fl11) at (2015,1217) {H11};
\node[haplab] (fl19) at (1576,1264) {H19};
\node[haplab] (fl2) at (2087,1269) {H2};
\node[haplab] (fl17) at (1890,1260) {H17};
\node[haplab] (fl16) at (2007,1329) {H16};
\node[haplab] (fl9) at (1637,1333) {H9};
\node[haplab] (fl15) at (1772,1356) {H15};
\node[haplab] (fl20) at (2010,1406) {H20};
\node[haplab] (fl18) at (1908,1410) {H18};
% legend
\draw[legbox] (2233,898) rectangle (2406,1319);
\node[hap,minimum size=6.5mm] (fS10) at (2318,952) {};
\node[hap,minimum size=1.9mm] (fS1) at (2319,976) {};
\node[sizelab] (fS10t) at (2318,951) {10 samples};
\node[sizelab] (fS1t) at (2319,995) {1 sample};
\node[hap,fill=fIdn,minimum size=2.2mm] (fk1) at (2263,1032) {};
\node[legtext] (ft1) at (2287,1032) {Indonesia};
\node[hap,fill=fPak,minimum size=2.2mm] (fk2) at (2263,1061) {};
\node[legtext] (ft2) at (2287,1061) {Pakistan};
\node[hap,fill=fChn,minimum size=2.2mm] (fk3) at (2263,1088) {};
\node[legtext] (ft3) at (2287,1088) {China};
\node[hap,fill=fBgd,minimum size=2.2mm] (fk4) at (2263,1116) {};
\node[legtext] (ft4) at (2287,1116) {Bangladesh};
\node[hap,fill=fNep,minimum size=2.2mm] (fk5) at (2263,1143) {};
\node[legtext] (ft5) at (2287,1143) {Nepal};
\node[hap,fill=fVie,minimum size=2.2mm] (fk6) at (2263,1172) {};
\node[legtext] (ft6) at (2287,1172) {Vietnam};
\node[hap,fill=fInd,minimum size=2.2mm] (fk7) at (2263,1199) {};
\node[legtext] (ft7) at (2287,1199) {India};
\node[hap,fill=fKor,minimum size=2.2mm] (fk8) at (2263,1227) {};
\node[legtext] (ft8) at (2287,1227) {Korea};
\node[hap,fill=fSri,minimum size=2.2mm] (fk9) at (2263,1256) {};
\node[legtext] (ft9) at (2287,1256) {Srilanka};
\node[hap,fill=fJpn,minimum size=2.2mm] (fk10) at (2263,1282) {};
\node[legtext] (ft10) at (2287,1282) {Japan};
\end{tikzpicture}
\end{document}
